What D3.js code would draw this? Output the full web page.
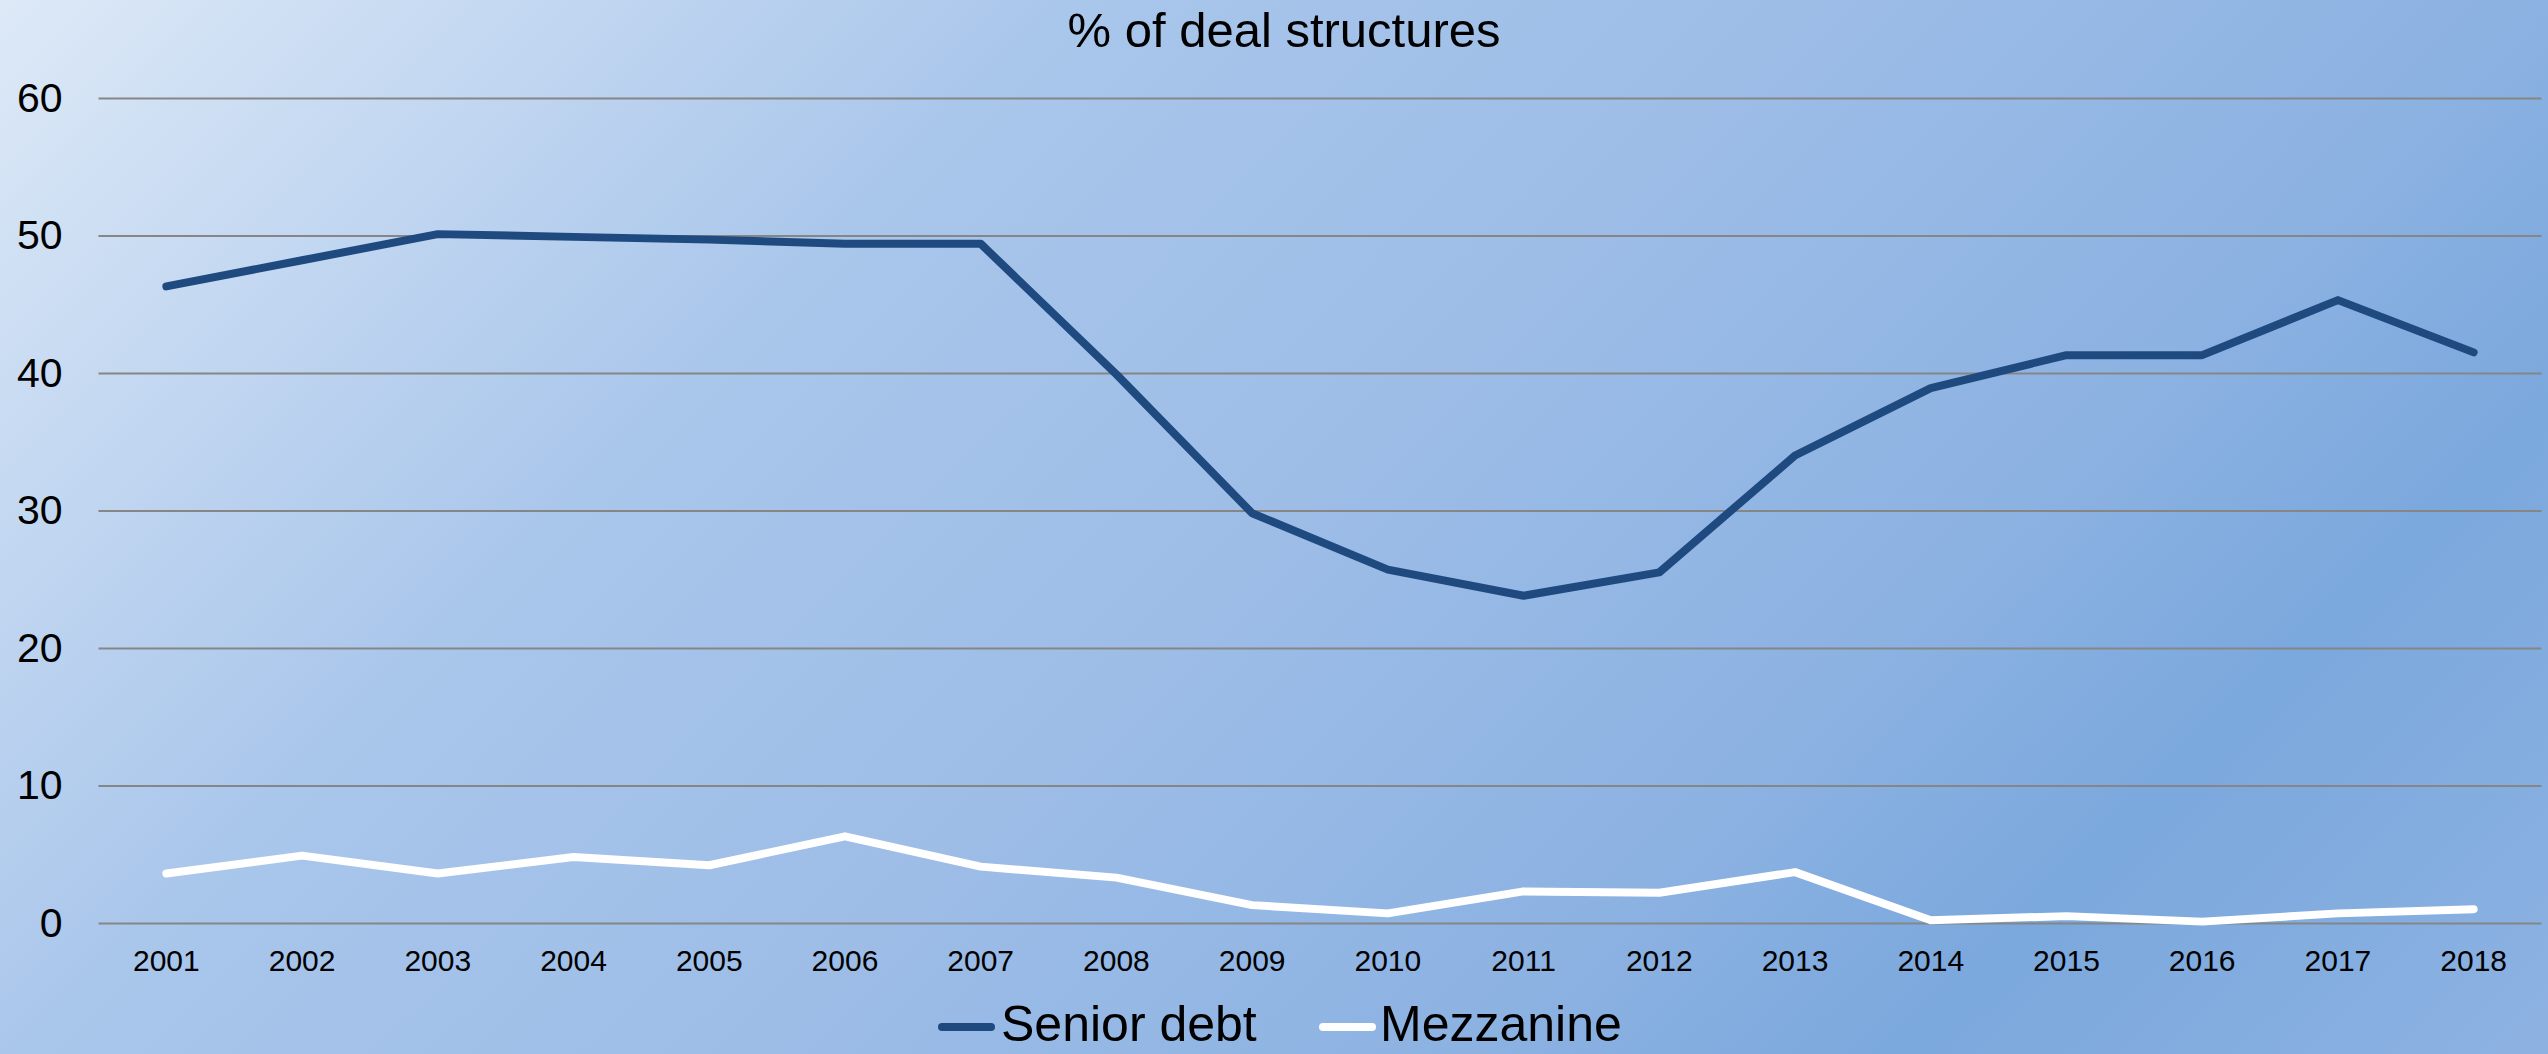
<!DOCTYPE html>
<html>
<head>
<meta charset="utf-8">
<script src="https://cdn.jsdelivr.net/npm/d3@7"></script>
<style>
  html, body { margin: 0; padding: 0; background: #fff; }
  svg { display: block; font-family: "Liberation Sans", Arial, sans-serif; }
</style>
</head>
<body>
<svg id="chart" width="2548" height="1054"></svg>
<script>
// Deal structure shares by year (%)
const years = ["2001","2002","2003","2004","2005","2006","2007","2008","2009","2010",
               "2011","2012","2013","2014","2015","2016","2017","2018"];
const seniorDebt = [46.3, 48.2, 50.1, 49.9, 49.7, 49.4, 49.4, 39.9, 29.8, 25.7,
                    23.8, 25.5, 34.0, 38.9, 41.3, 41.3, 45.3, 41.5];
const mezzanine  = [3.6, 4.9, 3.6, 4.8, 4.2, 6.3, 4.1, 3.3, 1.3, 0.7,
                    2.3, 2.2, 3.7, 0.2, 0.5, 0.1, 0.7, 1.0];
const yTicks = [0, 10, 20, 30, 40, 50, 60];
const seriesNames = ["Senior debt", "Mezzanine"];
const seriesColors = ["#1f4a80", "#ffffff"];
const titleText = "% of deal structures";

const W = 2548, H = 1054;
const plot = { left: 98.5, right: 2541.5, top: 98, bottom: 923 };

const svg = d3.select("#chart");

// Diagonal blue background wash
const defs = svg.append("defs");
const grad = defs.append("linearGradient")
  .attr("id", "bg")
  .attr("gradientUnits", "userSpaceOnUse")
  .attr("x1", 0).attr("y1", 0)
  .attr("x2", 1801).attr("y2", 1801);
[[0, "#dde9f7"], [0.3, "#a9c6eb"], [0.5, "#9dbde7"], [0.7, "#8cb2e2"],
 [0.82, "#7ba8dd"], [1, "#8db2e2"]].forEach(([o, c]) =>
  grad.append("stop").attr("offset", o).attr("stop-color", c));
svg.append("rect").attr("width", W).attr("height", H).attr("fill", "url(#bg)");

const x = d3.scaleBand().domain(years).range([plot.left, plot.right]).padding(0);
const cx = d => x(d) + x.bandwidth() / 2;
const y = d3.scaleLinear().domain([0, 60]).range([plot.bottom, plot.top]);

// Horizontal gridlines with value labels
const yAxis = svg.append("g")
  .attr("transform", `translate(${plot.left},0)`)
  .call(d3.axisLeft(y).tickValues(yTicks).tickSize(-(plot.right - plot.left)).tickPadding(36));
yAxis.select(".domain").remove();
yAxis.selectAll(".tick line").attr("stroke", "#868686").attr("stroke-width", 2);
yAxis.selectAll(".tick text").attr("fill", "#000").attr("font-size", 41)
  .attr("font-family", "Liberation Sans, Arial, sans-serif");

// Year labels
const xAxis = svg.append("g")
  .attr("transform", `translate(0,${plot.bottom})`)
  .call(d3.axisBottom(x).tickSize(0).tickPadding(27));
xAxis.select(".domain").remove();
xAxis.selectAll(".tick text").attr("fill", "#000").attr("font-size", 30)
  .attr("font-family", "Liberation Sans, Arial, sans-serif");

// Series lines
const line = d3.line().x((d, i) => cx(years[i])).y(d => y(d));
[seniorDebt, mezzanine].forEach((vals, k) => {
  svg.append("path")
    .datum(vals)
    .attr("d", line)
    .attr("fill", "none")
    .attr("stroke", seriesColors[k])
    .attr("stroke-width", 8)
    .attr("stroke-linejoin", "round")
    .attr("stroke-linecap", "round");
});

// Title
svg.append("text")
  .attr("x", 1284).attr("y", 47)
  .attr("text-anchor", "middle")
  .attr("font-size", 49)
  .attr("fill", "#000")
  .text(titleText);

// Legend
const legendItems = [
  { name: seriesNames[0], color: seriesColors[0], sx: 938, tx: 1001 },
  { name: seriesNames[1], color: seriesColors[1], sx: 1319, tx: 1380 }
];
const lg = svg.append("g");
legendItems.forEach(it => {
  lg.append("line")
    .attr("x1", it.sx + 4).attr("x2", it.sx + 53)
    .attr("y1", 1027).attr("y2", 1027)
    .attr("stroke", it.color).attr("stroke-width", 8)
    .attr("stroke-linecap", "round");
  lg.append("text")
    .attr("x", it.tx).attr("y", 1041)
    .attr("font-size", 50)
    .attr("fill", "#000")
    .text(it.name);
});
</script>
</body>
</html>
